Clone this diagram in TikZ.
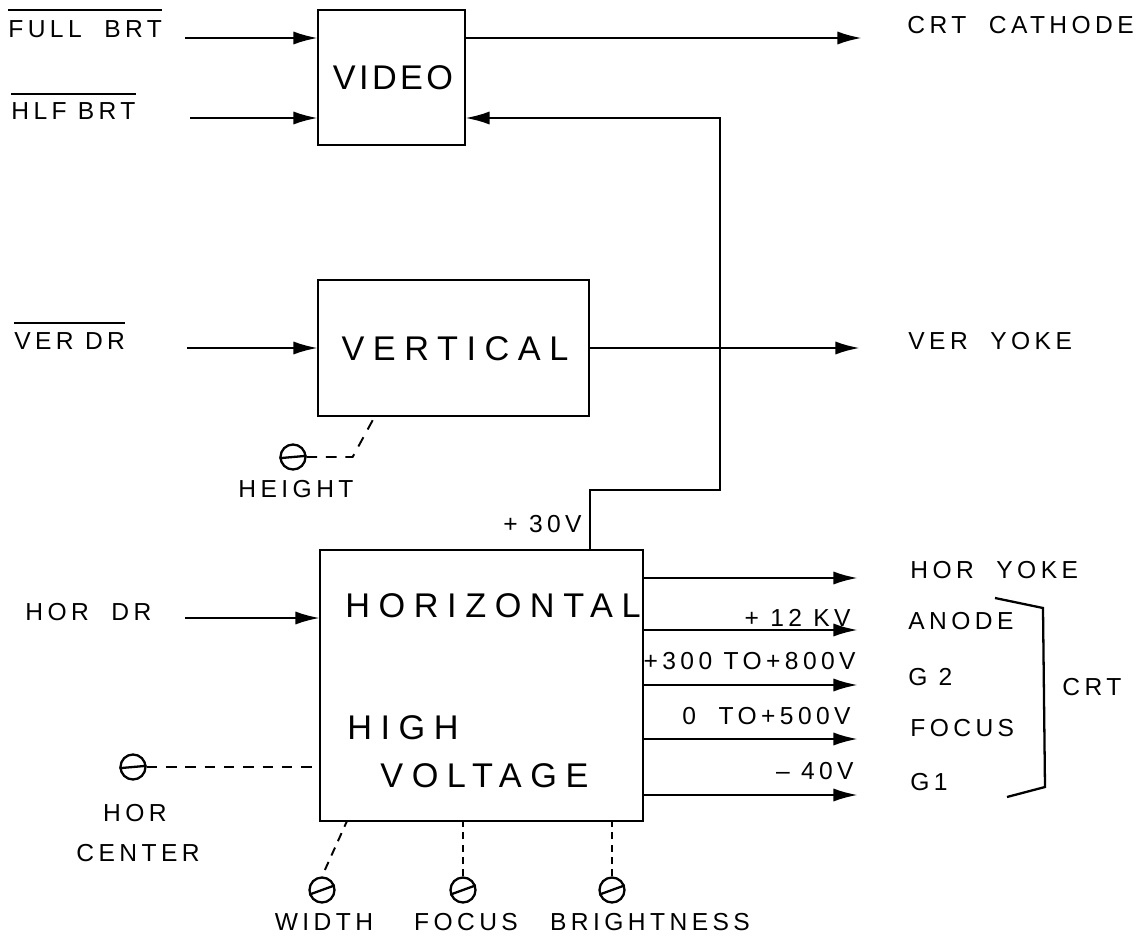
\documentclass[tikz,border=0pt]{standalone}
\usepackage{fontspec}
\setmainfont{Liberation Sans}[LetterSpace=18]
\newfontfamily\boxfont{Liberation Sans}[LetterSpace=25]
\usetikzlibrary{arrows.meta, calc}

\begin{document}
\begin{tikzpicture}[x=0.02cm, y=-0.02cm,
  box/.style={draw, line width=1.5pt, inner sep=0pt, outer sep=0pt},
  lbl/.style={inner sep=0pt, font=\fontsize{14}{16}\selectfont},
  big/.style={inner sep=0pt, font=\boxfont\fontsize{19.5}{22}\selectfont},
  arr/.style={-{Latex[length=14pt, width=7.5pt]}, line width=1.5pt},
  wire/.style={line width=1.3pt},
  adj/.style={line width=1.1pt, dash pattern=on 6pt off 5pt},
  pot/.style={circle, draw, line width=1.3pt, minimum size=0.5cm, inner sep=0pt},
  bar/.style={line width=1.3pt},
]
  \useasboundingbox (0,0) rectangle (1144,946);

  % Blocks
  \node[box, minimum width=2.94cm, minimum height=2.7cm] (video) at (391.5,77.5) {};
  \node[box, minimum width=5.42cm, minimum height=2.72cm] (vert) at (453.5,348) {};
  \node[box, minimum width=6.46cm, minimum height=5.42cm] (hv) at (481.5,685.5) {};

  \node[big, font=\boxfont\fontsize{19.5}{22}\selectfont\addfontfeature{LetterSpace=10}] (videotxt) at (393,78) {VIDEO};
  \node[big] (verttxt) at (455,349) {VERTICAL};
  \node[big, anchor=west] (hortxt) at (345,606) {HORIZONTAL};
  \node[big, anchor=west] (hightxt) at (347,728) {HIGH};
  \node[big, anchor=west] (volttxt) at (380,776) {VOLTAGE};

  % Inputs
  \node[lbl, anchor=west] (fullbrt) at (8,29) {FULL\ \ BRT};
  \node[lbl, anchor=west] (hlfbrt) at (11,111) {HLF BRT};
  \node[lbl, anchor=west] (verdr) at (14,341) {VER DR};
  \node[lbl, anchor=west] (hordr) at (25,612) {HOR\ \ DR};
  \draw[bar] ([yshift=0.2cm]fullbrt.north west) -- ([yshift=0.2cm]fullbrt.north east);
  \draw[bar] ([yshift=0.16cm]hlfbrt.north west) -- ([yshift=0.16cm]hlfbrt.north east);
  \draw[bar] ([yshift=0.18cm]verdr.north west) -- ([yshift=0.18cm]verdr.north east);

  \coordinate (fullin) at (185,38);
  \coordinate (hlfin) at (190,118);
  \coordinate (verin) at (187,348);
  \coordinate (horin) at (185,618);
  \draw[arr] (fullin) -- (fullin -| video.west);
  \draw[arr] (hlfin) -- (hlfin -| video.west);
  \draw[arr] (verin) -- (verin -| vert.west);
  \draw[arr] (horin) -- (horin -| hv.west);

  % Outputs
  \node[lbl, anchor=west] (cathode) at (907,25) {CRT\ \ CATHODE};
  \node[lbl, anchor=west] (veryoke) at (908,341) {VER\ \ YOKE};
  \node[lbl, anchor=west] (horyoke) at (910,570) {HOR\ \ YOKE};
  \node[lbl, anchor=west] (anode) at (908,621) {ANODE};
  \node[lbl, anchor=west] (gtwo) at (908,677) {G 2};
  \node[lbl, anchor=west] (focus) at (910,728) {FOCUS};
  \node[lbl, anchor=west] (gone) at (910,782) {G1};
  \node[lbl, anchor=west] (crt) at (1062,687) {CRT};

  \coordinate (cathodeend) at (862,38);
  \coordinate (veryokeend) at (860,348);
  \coordinate (horyokeend) at (858,578);
  \coordinate (anodeend) at (858,630);
  \coordinate (gtwoend) at (858,685);
  \coordinate (focusend) at (858,739);
  \coordinate (goneend) at (858,795);
  \draw[arr] (cathodeend -| video.east) -- (cathodeend);
  \draw[arr] (veryokeend -| vert.east) -- (veryokeend);
  \draw[arr] (horyokeend -| hv.east) -- (horyokeend);
  \draw[arr] (anodeend -| hv.east) -- (anodeend);
  \draw[arr] (gtwoend -| hv.east) -- (gtwoend);
  \draw[arr] (focusend -| hv.east) -- (focusend);
  \draw[arr] (goneend -| hv.east) -- (goneend);

  \node[lbl, anchor=south east] (anodev) at (851,627) {+ 12 KV};
  \node[lbl, anchor=south east] (gtwov) at (856,670) {+300 TO+800V};
  \node[lbl, anchor=south east] (focusv) at (851,725) {0\ \ TO+500V};
  \node[lbl, anchor=south east] (gonev) at (854,780) {– 40V};

  % CRT bracket
  \draw[wire] (995,598) -- (1043,608) -- (1045,787) -- (1007,797);

  % +30V feedback to video
  \coordinate (fb) at (590,550);
  \coordinate (fbstep) at (720,490);
  \node[lbl, anchor=east] (plus30) at (582,524) {+ 30V};
  \draw[arr] (fb) |- (fbstep) |- (video.east |- hlfin);

  % Adjustments
  \node[pot] (hpot) at (293,457) {};
  \draw[bar] (hpot.185) -- (hpot.5);
  \node[lbl] (height) at (296,489) {HEIGHT};
  \draw[adj] (hpot.east) -- ++(46,0) -- ([xshift=1.14cm]vert.south west);

  \node[pot] (cpot) at (133,767) {};
  \draw[bar] (cpot.185) -- (cpot.5);
  \node[lbl] (hor) at (135,813) {HOR};
  \node[lbl] (center) at (138,853) {CENTER};
  \draw[adj] (cpot.east) -- (cpot.east -| hv.west);

  \node[pot] (wpot) at (322,890) {};
  \node[pot] (fpot) at (463,890) {};
  \node[pot] (bpot) at (612,890) {};
  \draw[bar] (wpot.200) -- (wpot.20);
  \draw[bar] (fpot.200) -- (fpot.20);
  \draw[bar] (bpot.200) -- (bpot.20);
  \draw[adj, dash pattern=on 5pt off 4pt, shorten <=4pt] (wpot.north) -- ([xshift=0.54cm]hv.south west);
  \draw[adj, dash pattern=on 4pt off 3pt] (fpot.north) -- (fpot.north |- hv.south);
  \draw[adj, dash pattern=on 4pt off 3pt] (bpot.north) -- (bpot.north |- hv.south);
  \node[lbl] (width) at (324,922) {WIDTH};
  \node[lbl] (focusadj) at (466,922) {FOCUS};
  \node[lbl] (bright) at (650,922) {BRIGHTNESS};
\end{tikzpicture}
\end{document}
